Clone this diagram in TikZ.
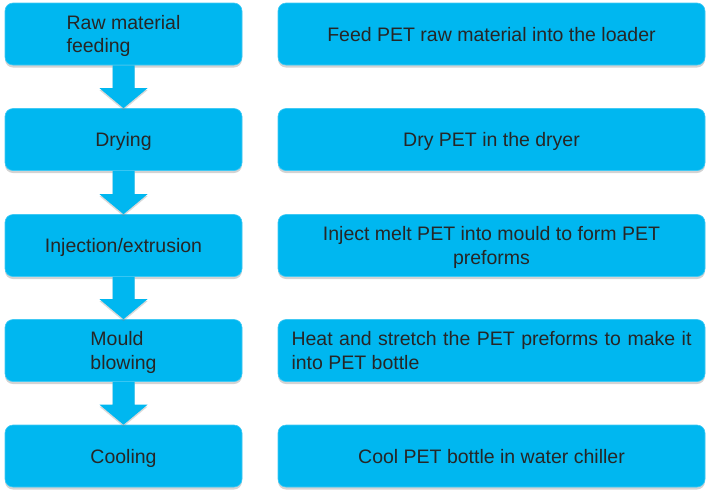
\documentclass[tikz,border=0pt]{standalone}
\usepackage{fontspec}
\setmainfont{Liberation Sans}
\usetikzlibrary{calc,shadows}
\definecolor{boxcyan}{RGB}{0,183,240}
\definecolor{inkgray}{RGB}{38,38,38}
% block arrow from the bottom of one stage to the top of the next
\newcommand\stagearrow[2]{%
\fill[flow] ($(#1.south)+(-11,0)$) -- ($(#1.south)+(11,0)$) -- ($(#2.north)+(11,-20)$)
  -- ($(#2.north)+(24,-20)$) -- (#2.north) -- ($(#2.north)+(-24,-20)$)
  -- ($(#2.north)+(-11,-20)$) -- cycle;}

\begin{document}
\begin{tikzpicture}[x=1pt,y=-1pt,
  stage/.style={fill=boxcyan,draw=boxcyan!75!white,line width=.6pt,rounded corners=8pt,
    minimum width=237pt,minimum height=62pt,inner sep=0pt,text depth=0pt,text=inkgray,
    font=\fontsize{19.5}{23.5}\selectfont,
    drop shadow={shadow xshift=0pt,shadow yshift=-2.5pt,opacity=.35}},
  task/.style={stage,minimum width=427pt},
  flow/.style={fill=boxcyan,drop shadow={shadow xshift=0pt,shadow yshift=-2pt,opacity=.3}}]
\useasboundingbox (0,0) rectangle (716,496);
% steps on the left
\node[stage,align=left] (raw) at (123.5,34) {Raw material\\feeding};
\node[stage] (dry) at (123.5,139.5) {Drying};
\node[stage] (inj) at (123.5,245.5) {Injection/extrusion};
\node[stage,align=left] (mould) at (123.5,350.5) {Mould\\blowing};
\node[stage] (cool) at (123.5,456) {Cooling};
% what happens in each step
\node[task] (rawtask) at (491.5,34) {Feed PET raw material into the loader};
\node[task] (drytask) at (491.5,139.5) {Dry PET in the dryer};
\node[task,align=center] (injtask) at (491.5,245.5) {Inject melt PET into mould to form PET\\preforms};
\node[task] (mouldtask) at (491.5,350.5) {\parbox[b]{400pt}{Heat and stretch the PET preforms to make it\linebreak into PET bottle}};
\node[task] (cooltask) at (491.5,456) {Cool PET bottle in water chiller};
\stagearrow{raw}{dry}
\stagearrow{dry}{inj}
\stagearrow{inj}{mould}
\stagearrow{mould}{cool}
\end{tikzpicture}
\end{document}
